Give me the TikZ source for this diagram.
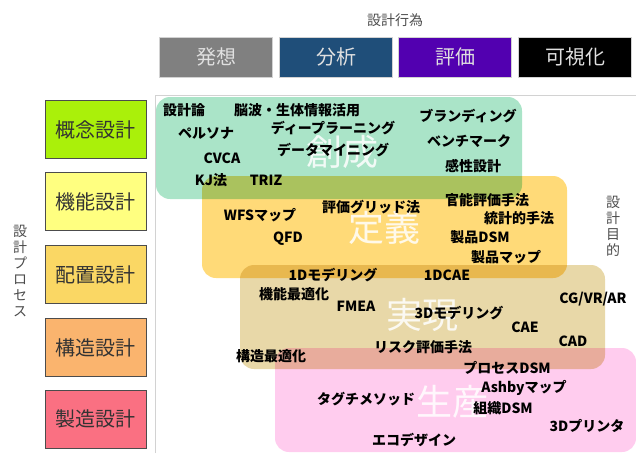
\documentclass[tikz,border=0pt]{standalone}
\usepackage{fontspec}
\setmainfont{Noto Sans CJK JP}
\definecolor{cHassou}{RGB}{128,128,128}
\definecolor{cBunseki}{RGB}{31,78,121}
\definecolor{cHyouka}{RGB}{82,0,176}
\definecolor{cGainen}{RGB}{170,240,10}
\definecolor{cKinou}{RGB}{255,255,128}
\definecolor{cHaichi}{RGB}{250,215,100}
\definecolor{cKouzou}{RGB}{250,180,110}
\definecolor{cSeizou}{RGB}{250,112,130}
\definecolor{rMint}{RGB}{170,228,200}
\definecolor{rYellow}{RGB}{255,218,120}
\definecolor{rTan}{RGB}{232,216,168}
\definecolor{rPink}{RGB}{255,204,238}
\tikzset{
  lab/.style={font=\bfseries\fontsize{14}{16}\selectfont, inner sep=0pt, text=black},
  hdr/.style={minimum width=113pt, minimum height=40pt, inner sep=0pt, draw=gray!35,
    font=\fontsize{20}{22}\selectfont, text=white!88!black},
  proc/.style={minimum width=101pt, minimum height=58pt, inner sep=0pt, draw=black!70,
    font=\fontsize{20}{22}\selectfont, text=black!80},
  region/.style={rounded corners=14pt},
  bigtxt/.style={font=\fontsize{36}{38}\selectfont, text=white, text opacity=0.85, inner sep=0pt},
  vtext/.style={align=center, inner sep=0pt, font=\fontsize{14}{16}\selectfont, text=black!70},
  axisline/.style={draw=gray!35, line width=0.8pt}
}
\begin{document}
\begin{tikzpicture}[x=1pt,y=-1pt]
\useasboundingbox (0,0) rectangle (636,453);
% title
\node[font=\fontsize{14}{16}\selectfont, text=black!70, inner sep=0pt] (tAct) at (395,20) {設計行為};
% header boxes
\node[hdr, fill=cHassou] (hHassou) at (216,57) {発想};
\node[hdr, fill=cBunseki] (hBunseki) at (336,57) {分析};
\node[hdr, fill=cHyouka] (hHyouka) at (455,57) {評価};
\node[hdr, fill=black] (hKashika) at (575,57) {可視化};
% process boxes
\node[proc, fill=cGainen] (pGainen) at (95.5,129.5) {概念設計};
\node[proc, fill=cKinou] (pKinou) at (95.5,201.5) {機能設計};
\node[proc, fill=cHaichi] (pHaichi) at (95.5,274.5) {配置設計};
\node[proc, fill=cKouzou] (pKouzou) at (95.5,347.5) {構造設計};
\node[proc, fill=cSeizou] (pSeizou) at (95.5,419) {製造設計};
% vertical labels
\node[vtext] (vProc) at (20,271) {設\\計\\プ\\ロ\\セ\\ス};
\node[vtext] (vPurp) at (613,226) {設\\計\\目\\的};
% axes
\coordinate (aTop) at (155,95);
\coordinate (aBot) at (155,453);
\coordinate (aRight) at (636,95);
\draw[axisline] (aBot) -- (aTop) -- (aRight);
% regions
\begin{scope}[blend group=multiply]
\fill[region, rMint] (156,97) rectangle (522,199);
\fill[region, rYellow] (202,176) rectangle (567,278);
\fill[region, rTan] (240,265) rectangle (605,369);
\fill[region, rPink] (275,348) rectangle (636,452);
\end{scope}
% big texts
\node[bigtxt] (bSousei) at (342,152) {創成};
\node[bigtxt] (bTeigi) at (384,228) {定義};
\node[bigtxt] (bJitsugen) at (422,315) {実現};
\node[bigtxt] (bSeisan) at (452,402) {生産};
% labels: 創成
\node[lab] (l1) at (184,110) {設計論};
\node[lab] (l2) at (297,110) {脳波・生体情報活用};
\node[lab] (l3) at (206,133) {ペルソナ};
\node[lab] (l4) at (333,128) {ディープラーニング};
\node[lab] (l5) at (333,150) {データマイニング};
\node[lab] (l6) at (222,158) {CVCA};
\node[lab] (l7) at (211,180) {KJ法};
\node[lab] (l8) at (266,180) {TRIZ};
\node[lab] (l9) at (468,116) {ブランディング};
\node[lab] (l10) at (469,141) {ベンチマーク};
\node[lab] (l11) at (473,166) {感性設計};
% 定義
\node[lab] (l12) at (260,215) {WFSマップ};
\node[lab] (l13) at (371,207) {評価グリッド法};
\node[lab] (l14) at (288,239) {QFD};
\node[lab] (l15) at (487,200) {官能評価手法};
\node[lab] (l16) at (519,218) {統計的手法};
\node[lab] (l17) at (480,237) {製品DSM};
\node[lab] (l18) at (506,257) {製品マップ};
% 実現
\node[lab] (l19) at (333,275) {1Dモデリング};
\node[lab] (l20) at (447,275) {1DCAE};
\node[lab] (l21) at (294,294) {機能最適化};
\node[lab] (l22) at (356,306) {FMEA};
\node[lab] (l23) at (459,313) {3Dモデリング};
\node[lab] (l24) at (593,299) {CG/VR/AR};
\node[lab] (l25) at (525,327) {CAE};
\node[lab] (l26) at (573,341) {CAD};
\node[lab] (l27) at (271,356) {構造最適化};
\node[lab] (l28) at (423,347) {リスク評価手法};
% 生産
\node[lab] (l29) at (507,368) {プロセスDSM};
\node[lab] (l30) at (524,388) {Ashbyマップ};
\node[lab] (l31) at (503,408) {組織DSM};
\node[lab] (l32) at (366,399) {タグチメソッド};
\node[lab] (l33) at (587,426) {3Dプリンタ};
\node[lab] (l34) at (414,440) {エコデザイン};
\end{tikzpicture}
\end{document}
